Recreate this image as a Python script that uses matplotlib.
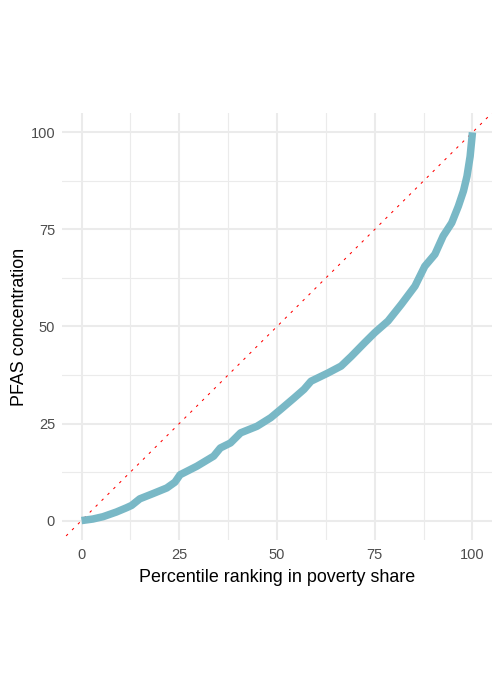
import matplotlib
matplotlib.use("Agg")
import matplotlib.pyplot as plt
import numpy as np

# Concentration curve values
percentile = [0, 2.9, 5.5, 8.9, 11.5, 12.8, 14.9, 18.4, 21.8, 23.9, 25.2, 29.5, 33.8,
              35.5, 38.1, 40.7, 44.9, 48.4, 50.9, 54.4, 56.9, 58.7, 63.0, 66.4, 69.0,
              72.4, 75.0, 78.4, 81.8, 85.3, 87.8, 90.4, 92.5, 94.7, 96.4, 97.7, 98.6,
              99.4, 100]
pfas = [0, 0.4, 1.0, 2.2, 3.3, 3.9, 5.6, 7.0, 8.4, 9.9, 11.8, 14.0, 16.6,
        18.7, 20.0, 22.6, 24.3, 26.5, 28.6, 31.6, 33.8, 35.9, 38.0, 39.8, 42.3,
        45.8, 48.4, 51.4, 55.7, 60.4, 65.5, 68.6, 73.3, 76.7, 81.0, 84.9, 88.7,
        93.8, 100]
ticks = [0, 25, 50, 75, 100]
minor_ticks = [12.5, 37.5, 62.5, 87.5]
xlabel = "Percentile ranking in poverty share"
ylabel = "PFAS concentration"

plt.rcParams['font.family'] = ['Liberation Sans', 'DejaVu Sans']

fig = plt.figure(figsize=(5, 7), dpi=100)
ax = fig.add_axes([0.124, 0.2286, 0.86, 0.61])

ax.set_xlim(-5, 105)
ax.set_ylim(-5, 105)

grid_col = '#EBEBEB'
for t in ticks:
    ax.axvline(t, color=grid_col, lw=1.5, zorder=0)
    ax.axhline(t, color=grid_col, lw=1.5, zorder=0)
for t in minor_ticks:
    ax.axvline(t, color=grid_col, lw=0.8, zorder=0)
    ax.axhline(t, color=grid_col, lw=0.8, zorder=0)

ax.plot([-10, 110], [-10, 110], color='#FF0000', lw=0.75,
        linestyle=(0, (2.5, 5.5)), zorder=2)

ax.plot(percentile, pfas, color='#79B8C6', lw=5.4, solid_capstyle='butt',
        solid_joinstyle='round', zorder=3)

for s in ax.spines.values():
    s.set_visible(False)
ax.set_xticks(ticks)
ax.set_yticks(ticks)
ax.set_xticklabels([str(t) for t in ticks])
ax.set_yticklabels([str(t) for t in ticks])
ax.tick_params(axis='x', length=0, labelsize=10.5, labelcolor='#4D4D4D', pad=6)
ax.tick_params(axis='y', length=0, labelsize=10.5, labelcolor='#4D4D4D', pad=5)
ax.set_xlabel(xlabel, fontsize=12.9, color='black', labelpad=5)
ax.set_ylabel(ylabel, fontsize=12.9, color='black', labelpad=1.5)

fig.savefig("out.png", dpi=100)
